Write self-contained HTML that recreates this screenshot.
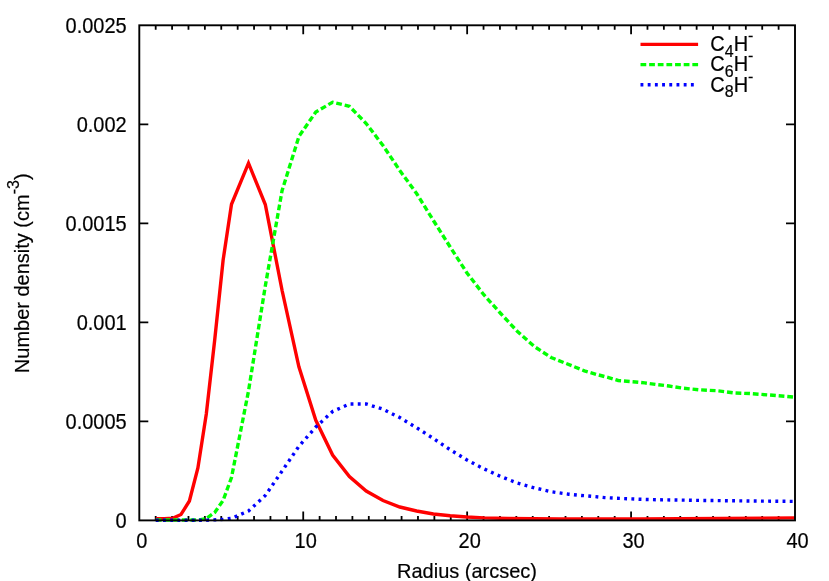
<!DOCTYPE html>
<html><head><meta charset="utf-8"><title>plot</title>
<style>
html,body{margin:0;padding:0;background:#fff;}
svg{display:block;will-change:transform;opacity:0.999}
text{font-family:"Liberation Sans",sans-serif;font-size:20px;fill:#000;stroke:#000;stroke-width:0.2px;}
</style></head>
<body>
<svg width="829" height="581" viewBox="0 0 829 581">
<path d="M155.69,520.40 v-4.5 M155.69,25.30 v4.5 M172.09,520.40 v-4.5 M172.09,25.30 v4.5 M188.48,520.40 v-4.5 M188.48,25.30 v4.5 M204.87,520.40 v-4.5 M204.87,25.30 v4.5 M221.26,520.40 v-4.5 M221.26,25.30 v4.5 M237.66,520.40 v-4.5 M237.66,25.30 v4.5 M254.05,520.40 v-4.5 M254.05,25.30 v4.5 M270.44,520.40 v-4.5 M270.44,25.30 v4.5 M286.83,520.40 v-4.5 M286.83,25.30 v4.5 M303.23,520.40 v-9.0 M303.23,25.30 v9.0 M319.62,520.40 v-4.5 M319.62,25.30 v4.5 M336.01,520.40 v-4.5 M336.01,25.30 v4.5 M352.40,520.40 v-4.5 M352.40,25.30 v4.5 M368.80,520.40 v-4.5 M368.80,25.30 v4.5 M385.19,520.40 v-4.5 M385.19,25.30 v4.5 M401.58,520.40 v-4.5 M401.58,25.30 v4.5 M417.97,520.40 v-4.5 M417.97,25.30 v4.5 M434.37,520.40 v-4.5 M434.37,25.30 v4.5 M450.76,520.40 v-4.5 M450.76,25.30 v4.5 M467.15,520.40 v-9.0 M467.15,25.30 v9.0 M483.54,520.40 v-4.5 M483.54,25.30 v4.5 M499.94,520.40 v-4.5 M499.94,25.30 v4.5 M516.33,520.40 v-4.5 M516.33,25.30 v4.5 M532.72,520.40 v-4.5 M532.72,25.30 v4.5 M549.11,520.40 v-4.5 M549.11,25.30 v4.5 M565.51,520.40 v-4.5 M565.51,25.30 v4.5 M581.90,520.40 v-4.5 M581.90,25.30 v4.5 M598.29,520.40 v-4.5 M598.29,25.30 v4.5 M614.68,520.40 v-4.5 M614.68,25.30 v4.5 M631.08,520.40 v-9.0 M631.08,25.30 v9.0 M647.47,520.40 v-4.5 M647.47,25.30 v4.5 M663.86,520.40 v-4.5 M663.86,25.30 v4.5 M680.25,520.40 v-4.5 M680.25,25.30 v4.5 M696.64,520.40 v-4.5 M696.64,25.30 v4.5 M713.04,520.40 v-4.5 M713.04,25.30 v4.5 M729.43,520.40 v-4.5 M729.43,25.30 v4.5 M745.82,520.40 v-4.5 M745.82,25.30 v4.5 M762.22,520.40 v-4.5 M762.22,25.30 v4.5 M778.61,520.40 v-4.5 M778.61,25.30 v4.5 M139.30,421.38 h9 M795.00,421.38 h-9 M139.30,322.36 h9 M795.00,322.36 h-9 M139.30,223.34 h9 M795.00,223.34 h-9 M139.30,124.32 h9 M795.00,124.32 h-9" stroke="#000" stroke-width="1.8" fill="none"/>
<path d="M155.8,518.6 L164.2,518.6 L172.6,518.2 L181.0,514.5 L189.4,501.0 L197.9,468.0 L206.3,414.0 L214.7,340.0 L223.1,260.2 L231.5,204.3 L248.5,163.2 L265.3,204.5 L282.1,290.5 L298.9,366.8 L315.8,420.3 L332.6,455.0 L349.4,476.5 L366.2,491.0 L383.0,500.5 L399.8,507.0 L416.6,511.0 L433.4,514.0 L450.2,515.7 L467.0,517.0 L484.0,517.9 L508.0,518.5 L560.0,518.9 L640.0,518.9 L720.0,518.4 L795.0,517.9" fill="none" stroke="#ff0000" stroke-width="3.4" stroke-linejoin="miter" stroke-miterlimit="10"/>
<path d="M155.8,520.0 L197.9,520.0 L206.3,518.6 L214.7,512.5 L223.1,500.5 L231.5,477.5 L248.5,391.0 L265.3,286.0 L282.1,190.5 L298.9,136.5 L315.8,112.0 L332.6,102.2 L349.4,106.3 L366.2,123.5 L383.0,145.5 L399.8,170.5 L416.6,193.5 L433.4,220.5 L450.2,247.0 L467.0,273.0 L483.8,294.7 L500.7,313.5 L517.5,331.5 L534.3,346.5 L551.1,357.5 L572.4,366.0 L584.4,370.8 L596.5,374.4 L608.6,377.6 L618.2,380.5 L632.7,381.7 L644.8,382.9 L656.8,384.6 L668.9,386.0 L681.7,388.0 L699.1,389.8 L716.5,390.7 L725.2,391.7 L733.6,392.9 L750.9,393.6 L768.0,394.9 L785.4,396.3 L795.0,397.2" fill="none" stroke="#00ff00" stroke-width="3.4" stroke-dasharray="5.76 2.88" stroke-linejoin="miter"/>
<path d="M155.8,520.2 L206.3,520.2 L223.1,519.4 L231.5,518.3 L248.5,511.0 L265.3,495.5 L282.1,471.0 L298.9,446.3 L315.8,427.0 L332.6,411.5 L349.4,404.0 L366.2,404.0 L383.0,409.2 L399.8,417.6 L416.6,427.7 L433.4,438.5 L450.2,449.8 L467.0,460.0 L483.8,468.8 L500.7,476.5 L517.5,483.1 L534.3,487.8 L551.1,491.7 L568.6,494.2 L580.6,495.4 L592.7,496.4 L604.8,497.6 L616.8,498.3 L628.9,498.8 L640.9,499.3 L660.0,499.8 L700.0,500.4 L750.0,501.0 L795.0,501.4" fill="none" stroke="#0000ff" stroke-width="3.4" stroke-dasharray="2.88 4.32" stroke-linejoin="miter"/>
<path d="M640.5,44.4 H698.1" stroke="#ff0000" stroke-width="3.4" fill="none"/>
<path d="M640.5,64.6 H698.1" stroke="#00ff00" stroke-width="3.4" stroke-dasharray="5.76 2.88" fill="none"/>
<path d="M640.5,84.7 H698.1" stroke="#0000ff" stroke-width="3.4" stroke-dasharray="2.88 4.32" fill="none"/>
<rect x="139.30" y="25.30" width="655.70" height="495.10" fill="none" stroke="#000" stroke-width="1.9"/>
<text transform="translate(141.8,548.0) scale(1,1.100)" text-anchor="middle">0</text>
<text transform="translate(305.7,548.0) scale(1,1.100)" text-anchor="middle">10</text>
<text transform="translate(469.7,548.0) scale(1,1.100)" text-anchor="middle">20</text>
<text transform="translate(633.6,548.0) scale(1,1.100)" text-anchor="middle">30</text>
<text transform="translate(797.5,548.0) scale(1,1.100)" text-anchor="middle">40</text>
<text transform="translate(126.7,528.0) scale(1,1.100)" text-anchor="end">0</text>
<text transform="translate(126.7,429.0) scale(1,1.100)" text-anchor="end">0.0005</text>
<text transform="translate(126.7,330.0) scale(1,1.100)" text-anchor="end">0.001</text>
<text transform="translate(126.7,230.9) scale(1,1.100)" text-anchor="end">0.0015</text>
<text transform="translate(126.7,131.9) scale(1,1.100)" text-anchor="end">0.002</text>
<text transform="translate(126.7,32.9) scale(1,1.100)" text-anchor="end">0.0025</text>
<text transform="translate(467.0,578.4) scale(1,1.040)" text-anchor="middle">Radius (arcsec)</text>
<text transform="translate(28.5,273.3) rotate(-90) scale(1,1.040)" text-anchor="middle">Number density (cm<tspan font-size="16" dy="-9.13">-3</tspan><tspan dy="9.13">)</tspan></text>
<text transform="translate(710.3,51.2) scale(1,1.060)" text-anchor="start">C<tspan font-size="16" dy="5.47">4</tspan><tspan dy="-5.47">H</tspan><tspan font-size="16" dy="-9.43">-</tspan></text>
<text transform="translate(710.3,71.4) scale(1,1.060)" text-anchor="start">C<tspan font-size="16" dy="5.47">6</tspan><tspan dy="-5.47">H</tspan><tspan font-size="16" dy="-9.43">-</tspan></text>
<text transform="translate(710.3,91.6) scale(1,1.060)" text-anchor="start">C<tspan font-size="16" dy="5.47">8</tspan><tspan dy="-5.47">H</tspan><tspan font-size="16" dy="-9.43">-</tspan></text>
</svg>
</body></html>
